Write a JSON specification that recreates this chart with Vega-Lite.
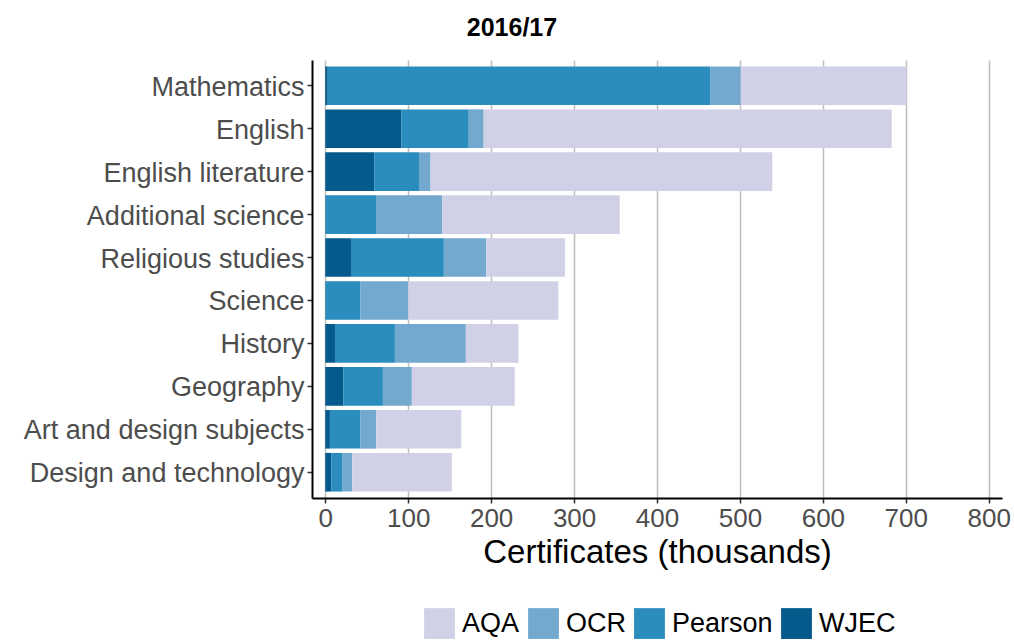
{
  "$schema": "https://vega.github.io/schema/vega-lite/v6.json",
  "autosize": "none",
  "padding": {"left": 312, "top": 60, "right": 12, "bottom": 144},
  "width": 690,
  "height": 438,
  "background": "white",
  "title": {"text": "2016/17", "font": "Liberation Sans", "fontSize": 25, "fontWeight": "bold", "color": "black", "anchor": "middle", "dx": -145, "offset": 19},
  "data": {"values": [
    {"subject": "Mathematics", "board": "WJEC", "value": 3},
    {"subject": "Mathematics", "board": "Pearson", "value": 461},
    {"subject": "Mathematics", "board": "OCR", "value": 37},
    {"subject": "Mathematics", "board": "AQA", "value": 200},
    {"subject": "English", "board": "WJEC", "value": 92},
    {"subject": "English", "board": "Pearson", "value": 81},
    {"subject": "English", "board": "OCR", "value": 18},
    {"subject": "English", "board": "AQA", "value": 492},
    {"subject": "English literature", "board": "WJEC", "value": 59},
    {"subject": "English literature", "board": "Pearson", "value": 54},
    {"subject": "English literature", "board": "OCR", "value": 14},
    {"subject": "English literature", "board": "AQA", "value": 412},
    {"subject": "Additional science", "board": "WJEC", "value": 0.5},
    {"subject": "Additional science", "board": "Pearson", "value": 61.5},
    {"subject": "Additional science", "board": "OCR", "value": 79},
    {"subject": "Additional science", "board": "AQA", "value": 214},
    {"subject": "Religious studies", "board": "WJEC", "value": 31},
    {"subject": "Religious studies", "board": "Pearson", "value": 112},
    {"subject": "Religious studies", "board": "OCR", "value": 51},
    {"subject": "Religious studies", "board": "AQA", "value": 95},
    {"subject": "Science", "board": "WJEC", "value": 0.5},
    {"subject": "Science", "board": "Pearson", "value": 42},
    {"subject": "Science", "board": "OCR", "value": 57.5},
    {"subject": "Science", "board": "AQA", "value": 181},
    {"subject": "History", "board": "WJEC", "value": 11.7},
    {"subject": "History", "board": "Pearson", "value": 72.3},
    {"subject": "History", "board": "OCR", "value": 85.5},
    {"subject": "History", "board": "AQA", "value": 63.5},
    {"subject": "Geography", "board": "WJEC", "value": 21.7},
    {"subject": "Geography", "board": "Pearson", "value": 47.8},
    {"subject": "Geography", "board": "OCR", "value": 34.9},
    {"subject": "Geography", "board": "AQA", "value": 124.1},
    {"subject": "Art and design subjects", "board": "WJEC", "value": 5.6},
    {"subject": "Art and design subjects", "board": "Pearson", "value": 36.9},
    {"subject": "Art and design subjects", "board": "OCR", "value": 18.9},
    {"subject": "Art and design subjects", "board": "AQA", "value": 102.6},
    {"subject": "Design and technology", "board": "WJEC", "value": 7.2},
    {"subject": "Design and technology", "board": "Pearson", "value": 13.7},
    {"subject": "Design and technology", "board": "OCR", "value": 11.6},
    {"subject": "Design and technology", "board": "AQA", "value": 120.1}
  ]},
  "config": {
    "view": {"stroke": null},
    "font": "Liberation Sans"
  },
  "mark": {"type": "bar"},
  "encoding": {
    "y": {
      "field": "subject", "type": "nominal",
      "sort": ["Mathematics", "English", "English literature", "Additional science", "Religious studies", "Science", "History", "Geography", "Art and design subjects", "Design and technology"],
      "scale": {"paddingInner": 0.1, "paddingOuter": 0.15},
      "axis": {"title": null, "labelFont": "Liberation Sans", "labelFontSize": 27, "labelColor": "#4d4d4d", "labelPadding": 3, "labelOffset": 2, "tickSize": 5, "tickColor": "#333333", "tickWidth": 1.5, "domainColor": "black", "domainWidth": 2, "grid": false, "labelLimit": 400}
    },
    "x": {
      "field": "value", "type": "quantitative", "stack": "zero",
      "scale": {"domain": [-16, 816], "nice": false, "zero": false},
      "axis": {"title": "Certificates (thousands)", "titleFont": "Liberation Sans", "titleFontSize": 33, "titleFontWeight": "normal", "titleColor": "black", "titlePadding": 5, "values": [0, 100, 200, 300, 400, 500, 600, 700, 800], "labelFont": "Liberation Sans", "labelFontSize": 26, "labelColor": "#4d4d4d", "labelPadding": 2, "tickSize": 5, "tickColor": "#333333", "tickWidth": 1.5, "domainColor": "black", "domainWidth": 2, "grid": true, "gridColor": "#bebebe", "gridWidth": 1.5, "labelFlush": false}
    },
    "color": {
      "field": "board", "type": "nominal",
      "scale": {"domain": ["AQA", "OCR", "Pearson", "WJEC"], "range": ["#d0d1e6", "#74a9cf", "#2b8cbe", "#045a8d"]},
      "legend": {"title": null, "orient": "none", "legendX": 112, "legendY": 548, "direction": "horizontal", "symbolType": "square", "symbolSize": 950, "symbolStrokeWidth": 0, "labelFont": "Liberation Sans", "labelFontSize": 27, "labelColor": "black", "labelOffset": 7, "columnPadding": 8}
    },
    "order": {"field": "board", "sort": "descending"}
  }
}
